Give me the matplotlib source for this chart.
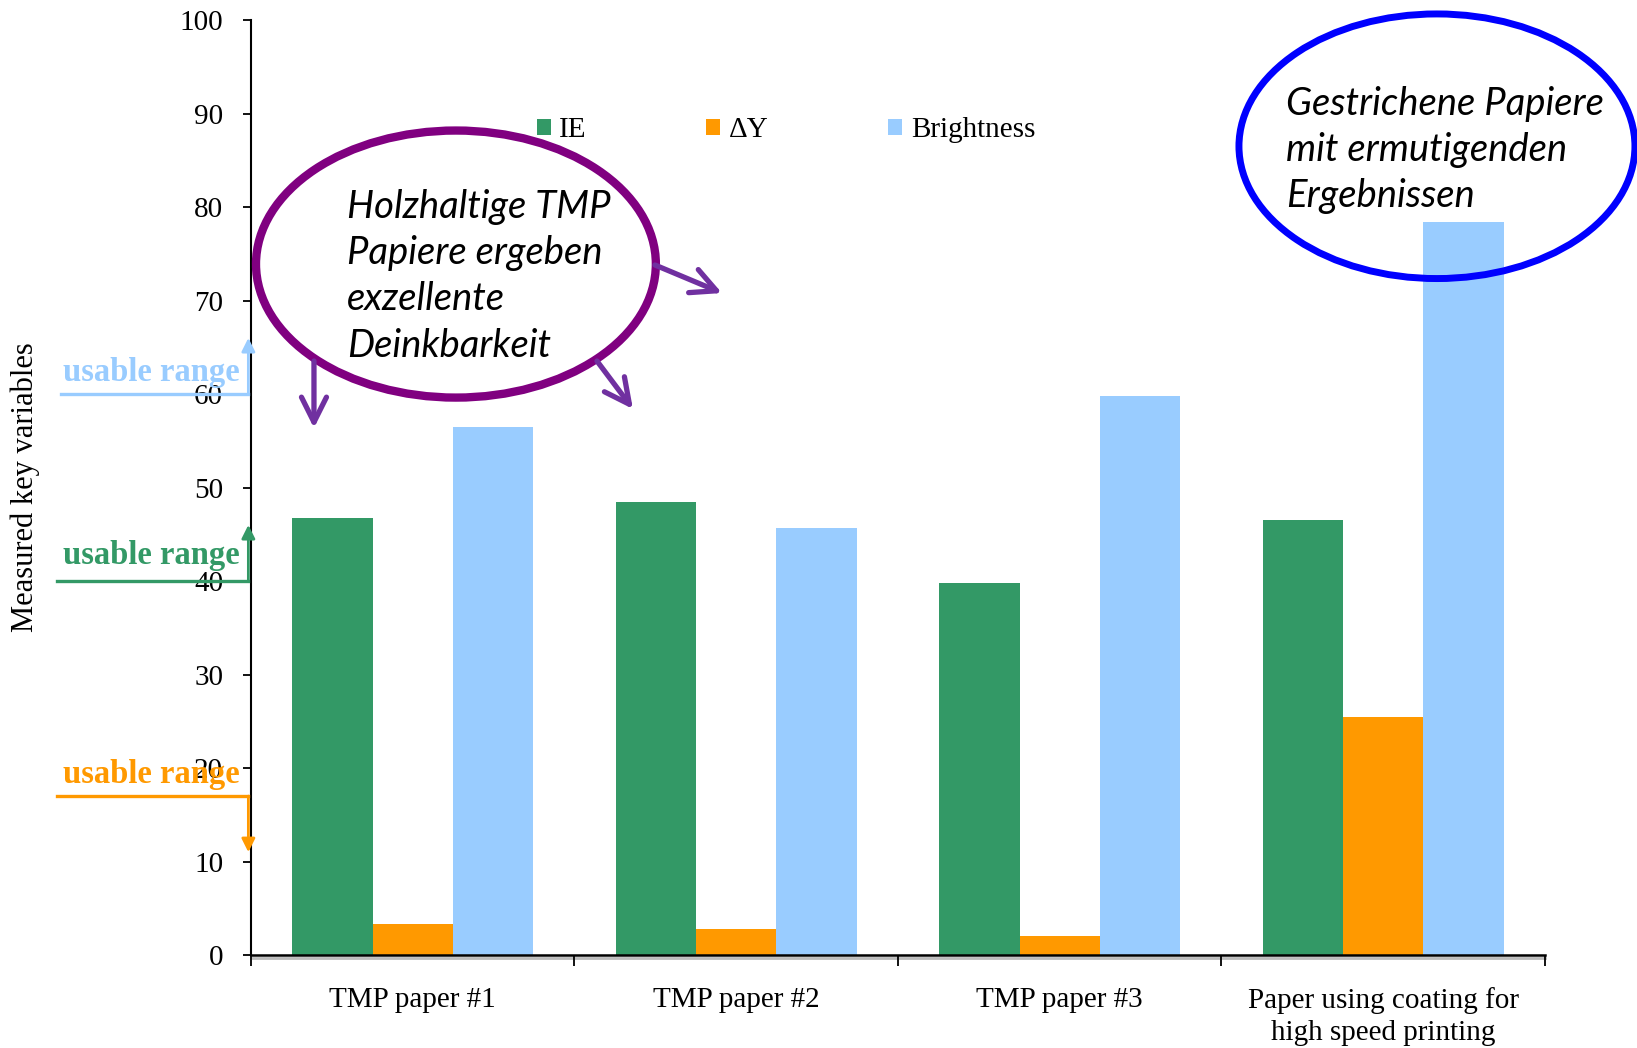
import matplotlib
matplotlib.use("Agg")
import matplotlib.pyplot as plt
from matplotlib.patches import Ellipse, Patch
from matplotlib.lines import Line2D
import numpy as np

categories = ["TMP paper #1", "TMP paper #2", "TMP paper #3",
              "Paper using coating for\nhigh speed printing"]
series_names = ["IE", "ΔY", "Brightness"]
ie_values = [46.7, 48.4, 39.8, 46.5]
dy_values = [3.35, 2.8, 2.0, 25.5]
brightness_values = [56.5, 45.7, 59.8, 78.4]
y_ticks = [0, 10, 20, 30, 40, 50, 60, 70, 80, 90, 100]

colors = ["#339966", "#FF9900", "#99CCFF"]
SERIF = ["Liberation Serif", "DejaVu Serif"]
ITAL = ["Lato", "DejaVu Sans"]

fig = plt.figure(figsize=(16.37, 10.48), dpi=100)
ax = fig.add_axes([0.1533, 0.0887, 0.7905, 0.8922])

x = np.arange(len(categories))
w = 0.248
for k, vals in enumerate([ie_values, dy_values, brightness_values]):
    ax.bar(x + (k - 1) * w, vals, width=w, color=colors[k], zorder=2,
           label=series_names[k])

ax.set_xlim(-0.5, len(categories) - 0.5)
ax.set_ylim(0, 100)
ax.set_yticks(y_ticks)
ax.set_yticklabels([str(t) for t in y_ticks], fontfamily=SERIF, fontsize=21)
ax.tick_params(axis="y", direction="out", length=6, width=1.3, pad=14)

ax.set_xticks(x)
ax.set_xticklabels(categories, fontfamily=SERIF, fontsize=21, va="top",
                   linespacing=1.3)
ax.tick_params(axis="x", which="major", length=0, pad=23)
ax.set_xticks(np.arange(-0.5, len(categories), 1.0), minor=True)
ax.tick_params(axis="x", which="minor", direction="out", length=8, width=1.3)

for s in ["top", "right"]:
    ax.spines[s].set_visible(False)
ax.spines["left"].set_linewidth(1.5)
ax.spines["bottom"].set_linewidth(1.8)
ax.spines["bottom"].set_zorder(3)
# subtle shadow under the x-axis
ax.plot([0, 1], [-0.003, -0.003], transform=ax.transAxes, color="#bbbbbb",
        lw=2.0, clip_on=False, zorder=1)

ax.set_ylabel("Measured key variables", fontfamily=SERIF, fontsize=22)
ax.yaxis.set_label_coords(-0.163, 0.50)

# legend
handles = [Patch(facecolor=c, edgecolor="none") for c in colors]
leg = ax.legend(handles, series_names, loc="center", bbox_to_anchor=(0.4135, 0.882),
                ncol=3, frameon=False, prop={"family": SERIF, "size": 21},
                handlelength=0.48, handleheight=0.48, handletextpad=0.3,
                columnspacing=4.1)

# usable range markers (outside axes on left)
yt = ax.get_yaxis_transform()
ranges = [("#99CCFF", 60.0, 66.0, 62.3, -0.147),
          ("#339966", 40.0, 46.0, 42.7, -0.150),
          ("#FF9900", 17.0, 11.0, 19.3, -0.150)]
for col, base, tip, ty, x0 in ranges:
    ax.add_line(Line2D([x0, -0.002], [base, base], transform=yt, color=col,
                       lw=2.4, clip_on=False, zorder=5))
    ax.annotate("", xy=(-0.002, tip), xytext=(-0.002, base), xycoords=yt,
                textcoords=yt, annotation_clip=False,
                arrowprops=dict(arrowstyle="-|>", color=col, lw=2.0,
                                mutation_scale=20, shrinkA=0, shrinkB=0))
    ax.text(-0.077, ty, "usable range", transform=yt, ha="center", va="center",
            color=col, fontfamily=SERIF, fontsize=23.5, fontweight="bold",
            clip_on=False, zorder=6)

# purple ellipse with text
ax.add_patch(Ellipse((0.1584, 0.739), 0.309, 0.2856, transform=ax.transAxes,
                     fill=False, edgecolor="#800080", lw=6, zorder=6,
                     clip_on=False))
ax.text(0.0742, 0.726, "Holzhaltige TMP\nPapiere ergeben\nexzellente\nDeinkbarkeit",
        transform=ax.transAxes, ha="left", va="center", fontfamily=ITAL,
        fontstyle="italic", fontsize=27.5, linespacing=1.36, zorder=7)
for (xs, ys), (xe, ye) in [((0.0487, 0.6353), (0.0487, 0.5636)),
                           ((0.2674, 0.6353), (0.2952, 0.5840)),
                           ((0.3122, 0.7380), (0.3640, 0.7080))]:
    ax.annotate("", xy=(xe, ye), xytext=(xs, ys), xycoords="axes fraction",
                textcoords="axes fraction",
                arrowprops=dict(arrowstyle="->,head_length=0.72,head_width=0.36",
                                color="#7030A0", lw=3.8, mutation_scale=25,
                                shrinkA=0, shrinkB=0, capstyle="round",
                                joinstyle="round"), zorder=7)

# blue ellipse with text
ax.add_patch(Ellipse((0.9165, 0.865), 0.306, 0.283, transform=ax.transAxes,
                     fill=False, edgecolor="#0000FF", lw=5, zorder=6,
                     clip_on=False))
ax.text(0.800, 0.861, "Gestrichene Papiere\nmit ermutigenden\nErgebnissen",
        transform=ax.transAxes, ha="left", va="center", fontfamily=ITAL,
        fontstyle="italic", fontsize=27.5, linespacing=1.36, zorder=7,
        clip_on=False)

fig.savefig("out.png", dpi=100)
